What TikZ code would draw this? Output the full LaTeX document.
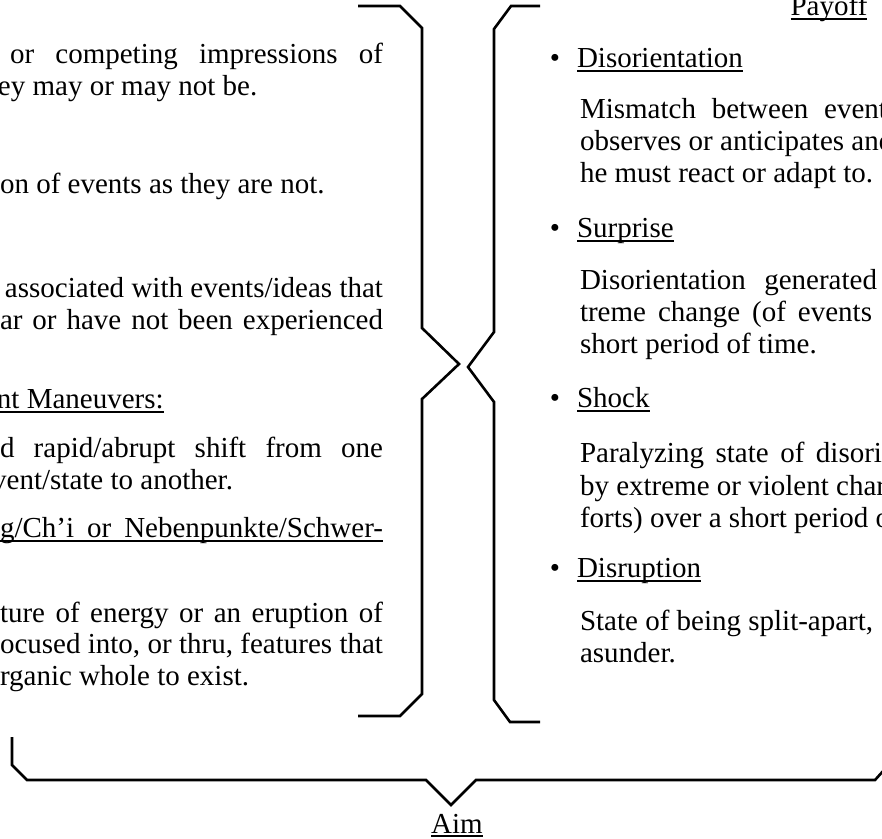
\documentclass[tikz,border=0pt]{standalone}
\usepackage{fontspec}
\setmainfont{Liberation Serif}
\newcommand\mybody{\fontsize{29}{32}\selectfont}
\newcommand\jline[5]{\node[txt, anchor=base west] (#1) at (#2,#4) {\makebox[\dimexpr #3pt-#2pt\relax][s]{#5}};}
\begin{document}
\begin{tikzpicture}[x=1pt, y=-1pt,
  txt/.style={inner sep=0pt, outer sep=0pt, font=\mybody},
  brk/.style={line width=2.6pt, line join=miter, line cap=butt},
  ul/.style={line width=1.1pt}]
\clip (0,0) rectangle (882,838);
% ---------- left column ----------
\jline{L1}{10}{383}{63}{or competing impressions of}
\node[txt, anchor=base west] (L2) at (-2,95) {ey may or may not be.};
\node[txt, anchor=base west] (L3) at (0,193) {on of events as they are not.};
\jline{L4}{5}{383}{297}{associated with events/ideas that}
\jline{L5}{0}{383}{329}{ar or have not been experienced}
\node[txt, anchor=base west] (L6) at (-3,408) {nt Maneuvers:};
\jline{L7}{0}{383}{457}{d rapid/abrupt shift from one}
\node[txt, anchor=base east] (L8) at (233,489) {vent/state to another.};
\jline{L9}{0}{383}{537}{g/Ch’i or Nebenpunkte/Schwer-}
\jline{L10}{0}{383}{622}{ture of energy or an eruption of}
\jline{L11}{0}{383}{653}{ocused into, or thru, features that}
\node[txt, anchor=base west] (L12) at (0,685) {rganic whole to exist.};
\draw[ul] ([yshift=-4pt]L6.base west) -- ([yshift=-4pt]L6.base east);
\draw[ul] ([yshift=-4pt]L9.base west) -- ([yshift=-4pt]L9.base east);
% ---------- right column ----------
\node[txt, anchor=base] (payoff) at (829,15) {Payoff};
\draw[ul] ([yshift=-4pt]payoff.base west) -- ([yshift=-4pt]payoff.base east);
\node[txt, anchor=base] (B1) at (555,67) {•};
\node[txt, anchor=base west] (H1) at (577,67) {Disorientation};
\jline{R1}{580}{887}{118}{Mismatch between event}
\node[txt, anchor=base west] (R2) at (580,150) {observes or anticipates and};
\node[txt, anchor=base west] (R3) at (580,182) {he must react or adapt to.};
\node[txt, anchor=base] (B2) at (555,237) {•};
\node[txt, anchor=base west] (H2) at (577,237) {Surprise};
\jline{R4}{580}{877}{289}{Disorientation generated}
\jline{R5}{580}{872}{321}{treme change (of events}
\node[txt, anchor=base west] (R6) at (580,353) {short period of time.};
\node[txt, anchor=base] (B3) at (555,407) {•};
\node[txt, anchor=base west] (H3) at (577,407) {Shock};
\jline{R7}{580}{882}{462}{Paralyzing state of disori}
\node[txt, anchor=base west] (R8) at (580,495) {by extreme or violent char};
\node[txt, anchor=base west] (R9) at (580,527) {forts) over a short period o};
\node[txt, anchor=base] (B4) at (555,577) {•};
\node[txt, anchor=base west] (H4) at (577,577) {Disruption};
\node[txt, anchor=base west] (R10) at (580,630) {State of being split-apart,};
\node[txt, anchor=base west] (R11) at (580,662) {asunder.};
\foreach \h in {H1,H2,H3,H4}
  \draw[ul] ([yshift=-4pt]\h.base west) -- ([yshift=-4pt]\h.base east);
% ---------- brackets ----------
\draw[brk] (358,6) -- (400,6) -- (422,28) -- (422,328) -- (459,364) -- (422,399) -- (422,694) -- (400,716) -- (358,716);
\draw[brk] (540,6) -- (511,6) -- (494,29) -- (494,332) -- (468,367) -- (494,402) -- (494,700) -- (510,722) -- (540,722);
\draw[brk] (12,737) -- (12,765) -- (27,780) -- (426,780) -- (451,805) -- (476,780) -- (875,780) -- (893,760);
% ---------- aim ----------
\node[txt, anchor=base] (aim) at (457,833) {Aim};
\draw[ul] ([yshift=-3pt]aim.base west) -- ([yshift=-3pt]aim.base east);
\end{tikzpicture}
\end{document}
